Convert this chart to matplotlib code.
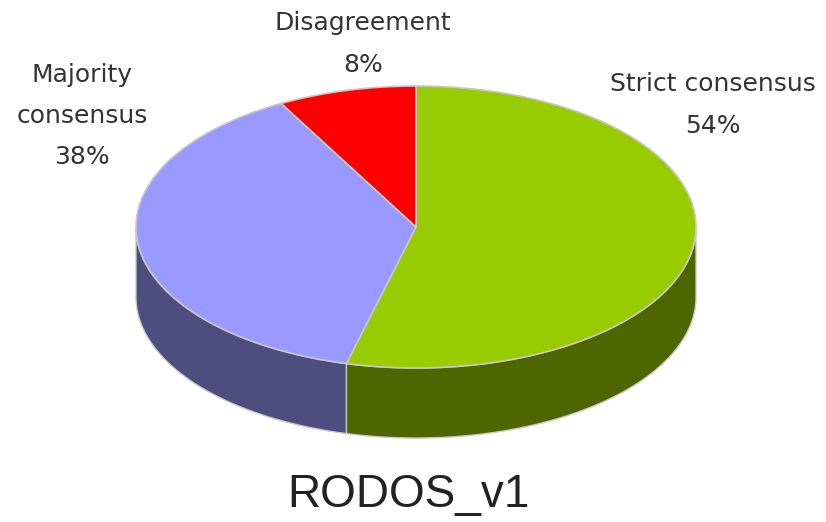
import matplotlib
matplotlib.use('Agg')
import matplotlib.pyplot as plt
import numpy as np

labels = ['Strict consensus', 'Majority\nconsensus', 'Disagreement']
percents = [54, 38, 8]
top_colors = ['#99CC00', '#9999FF', '#FF0000']
side_colors = ['#4D6600', '#4D4D80', '#800000']
title = 'RODOS_v1'

W, H = 826, 522
CX, CY, RX, RY = 416, 227, 280, 141
DEPTH = 70 / RY
EDGE = '#c8c8c8'

plt.rcParams['font.family'] = ['DejaVu Sans']


def px(x, y):
    return (x - CX) / RX, (CY - y) / RY


figure = plt.figure(figsize=(W / 100, H / 100), dpi=100)
ax = figure.add_axes([0, 0, 1, 1])
wedges, _ = ax.pie(percents, startangle=90, counterclock=False, colors=top_colors,
                   wedgeprops=dict(edgecolor=EDGE, linewidth=1.2, zorder=3))
ax.set_aspect('auto')
ax.set_xlim(px(0, 0)[0], px(W, 0)[0])
ax.set_ylim(px(0, H)[1], px(0, 0)[1])
ax.axis('off')

# the rim: the part of each slice's arc that faces the viewer, pushed down by DEPTH
for wedge, color in zip(wedges, side_colors):
    t1, t2 = wedge.theta1 % 360, wedge.theta2 % 360
    if t2 <= t1:
        t2 += 360
    for lo, hi in [(t1, t2), (t1 - 360, t2 - 360)]:
        a, b = max(lo, 180), min(hi, 360)
        if a >= b:
            continue
        t = np.radians(np.linspace(a, b, 120))
        x, y = np.cos(t), np.sin(t)
        ax.fill(np.r_[x, x[::-1]], np.r_[y, y[::-1] - DEPTH], facecolor=color,
                edgecolor=EDGE, linewidth=1.0, zorder=2)

text_kw = dict(ha='center', va='center', fontsize=18, color='#333333', linespacing=1.9)
ax.text(*px(713, 105), f'{labels[0]}\n{percents[0]}%', **text_kw)
ax.text(*px(82, 116), f'{labels[1]}\n{percents[1]}%', **text_kw)
ax.text(*px(363, 44), f'{labels[2]}\n{percents[2]}%', **text_kw)
ax.text(*px(408, 495), title, ha='center', va='center', fontsize=33,
        family=['Liberation Sans', 'DejaVu Sans'], color='#222222')

figure.savefig('out.png', dpi=100)
